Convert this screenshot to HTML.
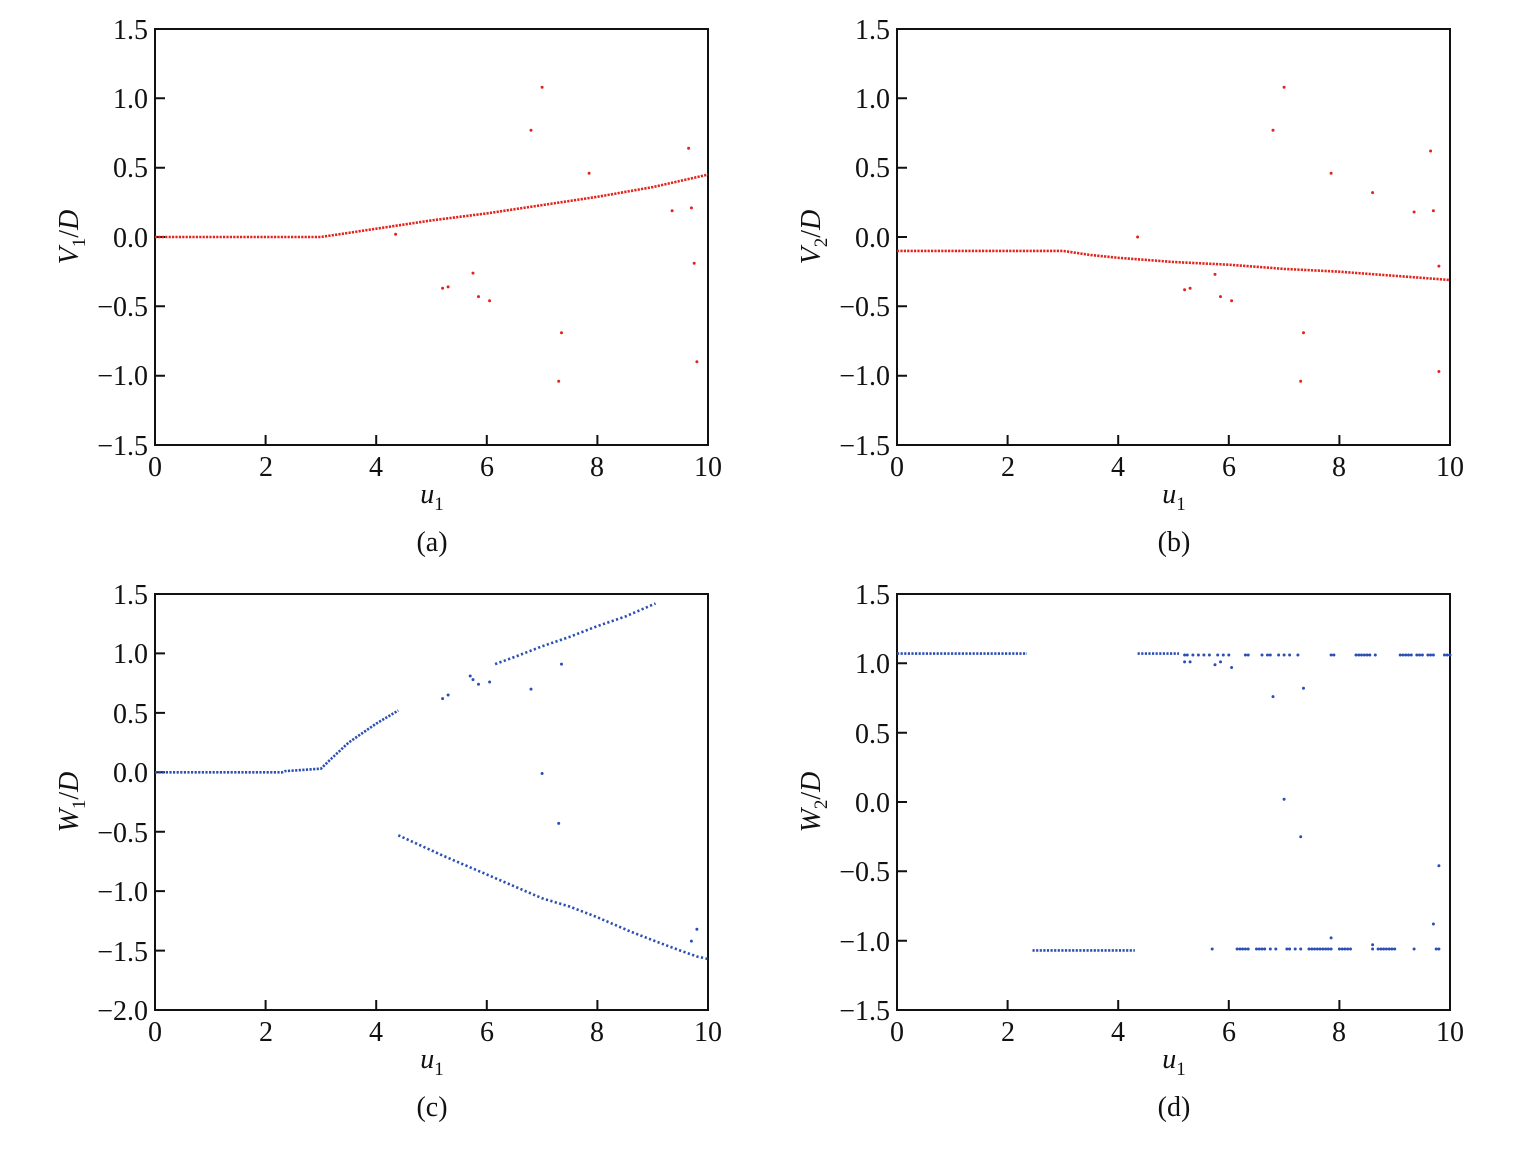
<!DOCTYPE html>
<html><head><meta charset="utf-8"><style>
body{margin:0;background:#fff;}
svg{display:block;font-family:"Liberation Serif",serif;}
.t{font-size:28px;fill:#111;}
</style></head><body>
<svg width="1538" height="1150" viewBox="0 0 1538 1150" xmlns="http://www.w3.org/2000/svg">
<g fill="none" stroke="#111" stroke-width="2">
<rect x="155" y="29" width="553" height="416"/>
<rect x="897" y="29" width="553" height="416"/>
<rect x="155" y="594" width="553" height="416"/>
<rect x="897" y="594" width="553" height="416"/>
<path d="M155 445v-10M265.6 445v-10M376.2 445v-10M486.8 445v-10M597.4 445v-10
M897 445v-10M1007.6 445v-10M1118.2 445v-10M1228.8 445v-10M1339.4 445v-10
M155 1010v-10M265.6 1010v-10M376.2 1010v-10M486.8 1010v-10M597.4 1010v-10
M897 1010v-10M1007.6 1010v-10M1118.2 1010v-10M1228.8 1010v-10M1339.4 1010v-10
M155 98.3h10M155 167.7h10M155 237h10M155 306.3h10M155 375.7h10
M897 98.3h10M897 167.7h10M897 237h10M897 306.3h10M897 375.7h10
M155 653.4h10M155 712.9h10M155 772.3h10M155 831.7h10M155 891.1h10M155 950.6h10
M897 663.3h10M897 732.7h10M897 802h10M897 871.3h10M897 940.7h10"/>
</g>
<!-- red series -->
<g fill="none" stroke="#e3241c" stroke-width="2.6" stroke-dasharray="2.2 1.2">
<polyline points="155,237 320.9,237 376.2,228.7 431.5,220.4 486.8,213.4 542.1,205.1 597.4,196.8 652.7,187.1 708,174.6"/>
<polyline points="897,250.9 1062.9,250.9 1090.6,255 1118.2,257.8 1173.5,262 1228.8,264.7 1284.1,268.9 1339.4,271.7 1394.7,275.8 1450,280"/>
</g>
<path fill="none" stroke="#e3241c" stroke-width="3" stroke-linecap="round" d="M395.6 234.2h0M442.6 288.3h0M448.1 286.9h0M473 273.1h0M478.5 296.6h0M489.6 300.8h0M531 130.2h0M542.1 87.2h0M558.7 381.2h0M561.5 332.7h0M589.1 173.2h0M672.1 210.7h0M688.6 148.3h0M691.4 207.9h0M694.2 263.3h0M696.9 361.8h0
M1137.6 237h0M1184.6 289.7h0M1190.1 288.3h0M1215 274.4h0M1220.5 296.6h0M1231.6 300.8h0M1273 130.2h0M1284.1 87.2h0M1300.7 381.2h0M1303.5 332.7h0M1331.1 173.2h0M1372.6 192.6h0M1414.1 212h0M1430.6 151h0M1433.4 210.7h0M1438.9 266.1h0M1438.9 371.5h0"/>
<!-- blue series -->
<g fill="none" stroke="#2b4fb5" stroke-width="2.6" stroke-dasharray="2.2 1.4">
<polyline points="155,772.3 282.2,772.3 285,771.1 320.9,768.7 332,758 348.6,742.6 376.2,723.6 398.3,710.5"/>
<polyline points="897,653.6 1027,653.6"/>
<polyline points="1032.5,950.4 1134.8,950.4"/>
<polyline points="1137.6,653.6 1179,653.6"/>
</g>
<g fill="none" stroke="#2b4fb5" stroke-width="2.6" stroke-dasharray="2.2 2.4">
<polyline points="495.1,664.1 514.5,657 542.1,646.3 569.8,636.8 597.4,626.1 625.1,616.6 655.5,603.5"/>
<polyline points="398.3,835.3 442.6,855.5 486.8,874.5 514.5,886.4 542.1,898.3 569.8,906.6 597.4,917.3 630.6,931.6 658.2,942.3 680.4,950.6 696.9,956.5 708,958.9"/>
</g>
<path fill="none" stroke="#2b4fb5" stroke-width="3" stroke-linecap="round" d="M442.6 698.6h0M448.1 695h0M470.2 676h0M473 679.6h0M478.5 684.3h0M489.6 682h0M531 689.1h0M542.1 773.5h0M558.7 823.4h0M561.5 664.1h0M696.9 929.2h0M691.4 941.1h0
M1184.6 655h0M1187.3 655h0M1192.9 655h0M1198.4 655h0M1203.9 655h0M1209.4 655h0M1217.7 655h0M1223.3 655h0M1228.8 655h0M1245.4 655h0M1248.2 655h0M1262 655h0M1267.5 655h0M1270.3 655h0M1278.6 655h0M1284.1 655h0M1289.6 655h0M1297.9 655h0M1331.1 655h0M1333.9 655h0M1356 655h0M1358.8 655h0M1361.5 655h0M1364.3 655h0M1367.1 655h0M1369.8 655h0M1375.3 655h0M1400.2 655h0M1403 655h0M1405.8 655h0M1408.5 655h0M1411.3 655h0M1416.8 655h0M1419.6 655h0M1422.4 655h0M1427.9 655h0M1430.6 655h0M1433.4 655h0M1444.5 655h0M1447.2 655h0M1450 655h0
M1212.2 949h0M1237.1 949h0M1239.9 949h0M1242.6 949h0M1245.4 949h0M1248.2 949h0M1256.5 949h0M1259.2 949h0M1262 949h0M1264.7 949h0M1270.3 949h0M1275.8 949h0M1286.9 949h0M1289.6 949h0M1295.2 949h0M1300.7 949h0M1309 949h0M1311.8 949h0M1314.5 949h0M1317.3 949h0M1320 949h0M1322.8 949h0M1325.6 949h0M1328.3 949h0M1331.1 949h0M1339.4 949h0M1342.2 949h0M1344.9 949h0M1347.7 949h0M1350.5 949h0M1372.6 949h0M1378.1 949h0M1380.9 949h0M1383.6 949h0M1386.4 949h0M1389.2 949h0M1391.9 949h0M1394.7 949h0M1414.1 949h0M1436.2 949h0M1438.9 949h0
M1184.6 661.9h0M1190.1 661.9h0M1215 664.7h0M1220.5 661.9h0M1231.6 667.5h0M1273 696.6h0M1284.1 799.2h0M1300.7 836.7h0M1303.5 688.3h0M1331.1 937.9h0M1372.6 944.8h0M1433.4 924h0M1438.9 865.8h0"/>
<g class="t" text-anchor="end">
<text x="148" y="39">1.5</text><text x="148" y="108">1.0</text><text x="148" y="177">0.5</text><text x="148" y="247">0.0</text><text x="148" y="316">−0.5</text><text x="148" y="385">−1.0</text><text x="148" y="455">−1.5</text>
<text x="890" y="39">1.5</text><text x="890" y="108">1.0</text><text x="890" y="177">0.5</text><text x="890" y="247">0.0</text><text x="890" y="316">−0.5</text><text x="890" y="385">−1.0</text><text x="890" y="455">−1.5</text>
<text x="148" y="604">1.5</text><text x="148" y="663">1.0</text><text x="148" y="723">0.5</text><text x="148" y="782">0.0</text><text x="148" y="842">−0.5</text><text x="148" y="901">−1.0</text><text x="148" y="961">−1.5</text><text x="148" y="1020">−2.0</text>
<text x="890" y="604">1.5</text><text x="890" y="673">1.0</text><text x="890" y="743">0.5</text><text x="890" y="812">0.0</text><text x="890" y="881">−0.5</text><text x="890" y="951">−1.0</text><text x="890" y="1020">−1.5</text>
</g>
<g class="t" text-anchor="middle">
<text x="155" y="476">0</text><text x="266" y="476">2</text><text x="376" y="476">4</text><text x="487" y="476">6</text><text x="597" y="476">8</text><text x="708" y="476">10</text>
<text x="897" y="476">0</text><text x="1008" y="476">2</text><text x="1118" y="476">4</text><text x="1229" y="476">6</text><text x="1339" y="476">8</text><text x="1450" y="476">10</text>
<text x="155" y="1041">0</text><text x="266" y="1041">2</text><text x="376" y="1041">4</text><text x="487" y="1041">6</text><text x="597" y="1041">8</text><text x="708" y="1041">10</text>
<text x="897" y="1041">0</text><text x="1008" y="1041">2</text><text x="1118" y="1041">4</text><text x="1229" y="1041">6</text><text x="1339" y="1041">8</text><text x="1450" y="1041">10</text>
<text x="432" y="503"><tspan font-style="italic">u</tspan><tspan font-size="19" dy="7">1</tspan></text>
<text x="1174" y="503"><tspan font-style="italic">u</tspan><tspan font-size="19" dy="7">1</tspan></text>
<text x="432" y="1068"><tspan font-style="italic">u</tspan><tspan font-size="19" dy="7">1</tspan></text>
<text x="1174" y="1068"><tspan font-style="italic">u</tspan><tspan font-size="19" dy="7">1</tspan></text>
<text x="432" y="551">(a)</text><text x="1174" y="551">(b)</text>
<text x="432" y="1116">(c)</text><text x="1174" y="1116">(d)</text>
<text transform="translate(78,237) rotate(-90)"><tspan font-style="italic">V</tspan><tspan font-size="19" dy="7">1</tspan><tspan dy="-7">/</tspan><tspan font-style="italic">D</tspan></text>
<text transform="translate(820,237) rotate(-90)"><tspan font-style="italic">V</tspan><tspan font-size="19" dy="7">2</tspan><tspan dy="-7">/</tspan><tspan font-style="italic">D</tspan></text>
<text transform="translate(78,802) rotate(-90)"><tspan font-style="italic">W</tspan><tspan font-size="19" dy="7">1</tspan><tspan dy="-7">/</tspan><tspan font-style="italic">D</tspan></text>
<text transform="translate(820,802) rotate(-90)"><tspan font-style="italic">W</tspan><tspan font-size="19" dy="7">2</tspan><tspan dy="-7">/</tspan><tspan font-style="italic">D</tspan></text>
</g>
</svg>
</body></html>
